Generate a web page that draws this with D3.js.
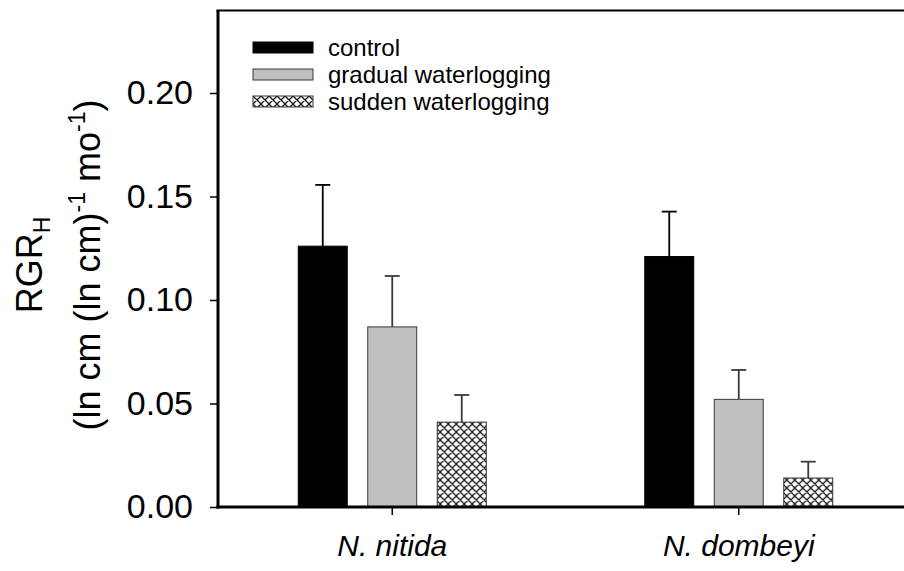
<!DOCTYPE html>
<html>
<head>
<meta charset="utf-8">
<script src="https://cdn.jsdelivr.net/npm/d3@7/dist/d3.min.js"></script>
<style>
  html, body { margin: 0; padding: 0; background: #fff; }
  svg { display: block; font-family: "Liberation Sans", Arial, Helvetica, sans-serif; }
</style>
</head>
<body>
<svg id="chart" width="904" height="571"></svg>
<script>
// Species on the x axis
const categories = ["N. nitida", "N. dombeyi"];
// Treatments (legend order)
const series = ["control", "gradual waterlogging", "sudden waterlogging"];
// Mean relative growth rate in height, per species, in treatment order
const meanNitida  = [0.126, 0.087, 0.041];
const meanDombeyi = [0.121, 0.052, 0.014];
// Standard errors (upper bars only)
const seNitida  = [0.0296, 0.0246, 0.0131];
const seDombeyi = [0.0217, 0.0142, 0.0079];
// Y axis ticks
const yTicks = [0.00, 0.05, 0.10, 0.15, 0.20];

const rows = [
  { cat: categories[0], means: meanNitida,  ses: seNitida },
  { cat: categories[1], means: meanDombeyi, ses: seDombeyi }
];

const W = 904, H = 571;
const plot = { left: 218, top: 10, bottom: 507 };

const svg = d3.select("#chart");

// crosshatch fill for the sudden waterlogging treatment
const defs = svg.append("defs");
const pat = defs.append("pattern")
  .attr("id", "xhatch")
  .attr("patternUnits", "userSpaceOnUse")
  .attr("width", 8).attr("height", 8);
pat.append("rect").attr("width", 8).attr("height", 8).attr("fill", "#fff");
pat.append("path")
  .attr("d", "M-2,2 L2,-2 M0,8 L8,0 M6,10 L10,6 M-2,6 L2,10 M0,0 L8,8 M6,-2 L10,2")
  .attr("stroke", "#1a1a1a").attr("stroke-width", 1.3).attr("fill", "none");

const fills = { "control": "#000", "gradual waterlogging": "#c0c0c0", "sudden waterlogging": "url(#xhatch)" };
const strokes = { "control": "#000", "gradual waterlogging": "#3a3a3a", "sudden waterlogging": "#333" };
const errColor = { "control": "#000", "gradual waterlogging": "#3a3a3a", "sudden waterlogging": "#3a3a3a" };

const x0 = d3.scaleBand().domain(categories).range([plot.left + 1, plot.left + 694]);
const step = 69.5;
const x1 = d3.scaleBand().domain(series)
  .range([-1.5 * step, 1.5 * step])
  .paddingInner(0.295).paddingOuter(0.1475);

const y = d3.scaleLinear().domain([0, 0.24]).range([plot.bottom, plot.bottom - 0.24 * 2070]);

// bars
const groups = svg.append("g").selectAll("g")
  .data(rows).join("g")
  .attr("transform", d => `translate(${x0(d.cat) + x0.bandwidth() / 2},0)`);

const items = groups.selectAll("g.item")
  .data(d => series.map((s, i) => ({ s, m: d.means[i], e: d.ses[i] })))
  .join("g").attr("class", "item");

// error bars (upper only)
items.append("line")
  .attr("x1", d => x1(d.s) + x1.bandwidth() / 2)
  .attr("x2", d => x1(d.s) + x1.bandwidth() / 2)
  .attr("y1", d => y(d.m))
  .attr("y2", d => y(d.m + d.e))
  .attr("stroke", d => errColor[d.s]).attr("stroke-width", 1.8);
items.append("line")
  .attr("x1", d => x1(d.s) + x1.bandwidth() / 2 - 7.5)
  .attr("x2", d => x1(d.s) + x1.bandwidth() / 2 + 7.5)
  .attr("y1", d => y(d.m + d.e))
  .attr("y2", d => y(d.m + d.e))
  .attr("stroke", d => errColor[d.s]).attr("stroke-width", 1.8);

items.append("rect")
  .attr("x", d => x1(d.s))
  .attr("width", x1.bandwidth())
  .attr("y", d => y(d.m))
  .attr("height", d => y(0) - y(d.m))
  .attr("fill", d => fills[d.s])
  .attr("stroke", d => strokes[d.s])
  .attr("stroke-width", 1);

// y axis
const yAxis = svg.append("g")
  .attr("transform", `translate(${plot.left},0)`)
  .call(d3.axisLeft(y).tickValues(yTicks).tickFormat(d3.format(".2f"))
    .tickSize(8).tickSizeOuter(0).tickPadding(17));
yAxis.select(".domain").remove();
yAxis.selectAll(".tick line").attr("stroke", "#000").attr("stroke-width", 1.5);
yAxis.selectAll(".tick text").attr("fill", "#000").attr("font-size", 34)
  .attr("font-family", "Liberation Sans, Arial, sans-serif");

// x axis
const xAxis = svg.append("g")
  .attr("transform", `translate(0,${plot.bottom})`)
  .call(d3.axisBottom(x0).tickSize(8).tickSizeOuter(0).tickPadding(20));
xAxis.select(".domain").remove();
xAxis.selectAll(".tick line").attr("stroke", "#000").attr("stroke-width", 1.5);
xAxis.selectAll(".tick text").attr("fill", "#000").attr("font-size", 30)
  .attr("font-style", "italic")
  .attr("font-family", "Liberation Sans, Arial, sans-serif");

// frame: left, bottom, top
svg.append("line").attr("x1", plot.left).attr("x2", plot.left)
  .attr("y1", plot.top).attr("y2", plot.bottom + 1.5)
  .attr("stroke", "#000").attr("stroke-width", 3);
svg.append("line").attr("x1", plot.left - 1.5).attr("x2", W + 5)
  .attr("y1", plot.bottom).attr("y2", plot.bottom)
  .attr("stroke", "#000").attr("stroke-width", 3);
svg.append("line").attr("x1", plot.left - 1.5).attr("x2", W + 5)
  .attr("y1", plot.top + 0.5).attr("y2", plot.top + 0.5)
  .attr("stroke", "#000").attr("stroke-width", 2);

// y axis title
const yt = svg.append("g").attr("transform", "translate(0,265)");
const t1 = yt.append("text")
  .attr("transform", "translate(42,0) rotate(-90)")
  .attr("text-anchor", "middle").attr("font-size", 36).attr("fill", "#000");
t1.append("tspan").text("RGR");
t1.append("tspan").attr("font-size", 23).attr("dy", 8).text("H");

const t2 = yt.append("text")
  .attr("transform", "translate(100,0) rotate(-90)")
  .attr("text-anchor", "middle").attr("font-size", 36).attr("fill", "#000");
t2.append("tspan").text("(ln cm (ln cm)");
t2.append("tspan").attr("font-size", 23).attr("dy", -15).text("-1");
t2.append("tspan").attr("dy", 15).text(" mo");
t2.append("tspan").attr("font-size", 23).attr("dy", -15).text("-1");
t2.append("tspan").attr("dy", 15).text(")");

// legend
const legend = svg.append("g").attr("transform", "translate(253,42)");
const li = legend.selectAll("g").data(series).join("g")
  .attr("transform", (d, i) => `translate(0,${i * 27})`);
li.append("rect").attr("width", 60).attr("height", 11)
  .attr("fill", d => fills[d]).attr("stroke", d => strokes[d]).attr("stroke-width", 1);
li.append("text").attr("x", 75).attr("y", 14)
  .attr("font-size", 24).attr("textLength", null).attr("fill", "#000").text(d => d);
</script>
</body>
</html>
